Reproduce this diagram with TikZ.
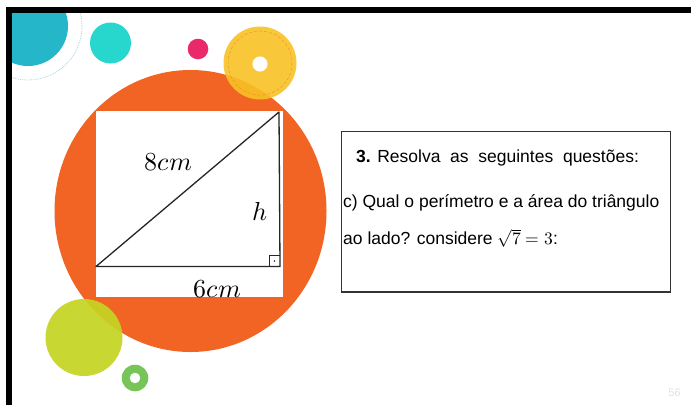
\documentclass[tikz,border=0pt]{standalone}
\usepackage{fontspec}
\setmainfont{Liberation Sans}
\usepackage{amsmath}
\usepackage{unicode-math}
\setmathfont{Latin Modern Math}
\definecolor{teal1}{HTML}{25B6CA}
\definecolor{tealdot}{HTML}{9ED8E2}
\definecolor{turq}{HTML}{27D6CD}
\definecolor{pinkc}{HTML}{E9296A}
\definecolor{yel}{HTML}{F9C125}
\definecolor{yeldash}{HTML}{F08A2A}
\definecolor{orng}{HTML}{F16423}
\definecolor{lime}{HTML}{C5D422}
\definecolor{greenr}{HTML}{77C559}
\definecolor{pnum}{HTML}{DCE3EC}
\begin{document}
\begin{tikzpicture}[x=1pt,y=-1pt,
  lbl/.style={inner sep=0pt,font=\fontsize{26}{30}\selectfont},
  qtext/.style={inner sep=0pt,anchor=west,font=\fontsize{17.5}{21}\selectfont}]
\useasboundingbox (0,0) rectangle (691,405);
\fill[white] (0,0) rectangle (691,405);
% decorative circles
\begin{scope}
\clip (9,9.5) rectangle (691,405);
\fill[teal1] (28,26) circle (40);
\draw[tealdot,densely dotted,line width=0.8pt] (28,26) circle (54);
\end{scope}
\fill[turq] (110.5,43) circle (20.5);
\fill[pinkc] (198,49) circle (10.3);
\fill[orng] (190.5,211) ellipse [x radius=136, y radius=141];
\fill[yel,opacity=0.9] (260,63) circle (36.5);
\draw[yeldash,densely dashed,line width=0.5pt,opacity=0.8] (260,63) circle (32);
\fill[white] (260,64) circle (7.6);
\fill[lime,opacity=0.92] (84,337.5) circle (38.5);
\fill[greenr,even odd rule] (135,378) circle (13.3) (135,378) circle (5.4);
% white panel
\fill[white] (95.5,111) rectangle (282.5,297);
% triangle
\coordinate (A) at (96,266.5);
\coordinate (B) at (280,266.5);
\coordinate (C) at (279,112);
\draw[line width=1.3pt,line join=round,black!85] (A) -- (B) -- (C) -- cycle;
\draw[line width=0.8pt,black!85] (269,266.5) -- (269,255) -- (280,255);
\fill[black!85] (274.5,261) circle (0.9);
\node[lbl] (l8) at (168.5,162) {$8cm$};
\node[lbl] (lh) at (260,212) {$h$};
\node[lbl] (l6) at (217,289) {$6cm$};
% text box
\draw[line width=1.3pt,black!80] (341.5,131.5) rectangle (670.5,292);
\node[qtext] (t1) at (356,158) {\textbf{3.} Resolva\ \ as\ \ seguintes\ \ questões:};
\node[qtext] (t2) at (343,203) {c) Qual o perímetro e a área do triângulo};
\node[qtext] (t3) at (343,238) {ao lado? considere $\sqrt{7}=3$:};
% page number
\node[inner sep=0pt,text=pnum,font=\fontsize{11}{13}\selectfont] (pn) at (674.5,393) {56};
% frame
\fill[black] (6,6.5) rectangle (691,12.5);
\fill[black] (6,6.5) rectangle (12,405);
\end{tikzpicture}
\end{document}
